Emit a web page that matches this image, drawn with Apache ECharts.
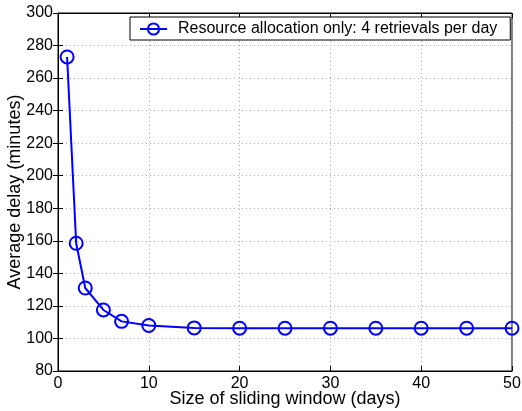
<!DOCTYPE html>
<html><head><meta charset="utf-8">
<script src="https://cdn.jsdelivr.net/npm/echarts@6/dist/echarts.min.js"></script>
<style>html,body{margin:0;padding:0;background:#fff}#c{width:522px;height:411px}</style>
</head><body><div id="c"></div>
<script>
const windowSizes = [1, 2, 3, 5, 7, 10, 15, 20, 25, 30, 35, 40, 45, 50];
const avgDelay = [273, 158.5, 131, 117.5, 110.5, 108, 106.5, 106.3, 106.3, 106.3, 106.3, 106.3, 106.3, 106.3];
const seriesName = 'Resource allocation only: 4 retrievals per day';
const xLabel = 'Size of sliding window (days)';
const yLabel = 'Average delay (minutes)';

const font = 'Liberation Sans, Arial, Helvetica, sans-serif';
const chart = echarts.init(document.getElementById('c'), null, {renderer: 'canvas'});
const grid = {left: 58, right: 10, top: 13, bottom: 40, show: true, borderColor: '#000', borderWidth: 1, backgroundColor: '#fff', containLabel: false, outerBoundsMode: 'none'};
const split = {show: true, lineStyle: {color: '#aaa', type: [1, 3], width: 1}};
chart.setOption({
  animation: false,
  textStyle: {fontFamily: font},
  grid: grid,
  legend: {
    data: [seriesName], left: 130, top: 17, orient: 'horizontal',
    backgroundColor: '#fff', borderColor: '#000', borderWidth: 1,
    padding: [4, 13, 3, 9], itemWidth: 27, itemHeight: 14, itemGap: 6,
    textStyle: {fontFamily: font, fontSize: 16, color: '#000', padding: [0, 0, 0, 6]}
  },
  xAxis: [{
    type: 'value', min: 0, max: 50, interval: 10, position: 'bottom',
    name: xLabel, nameLocation: 'middle', nameGap: 19, nameMoveOverlap: false,
    nameTextStyle: {fontFamily: font, fontSize: 18, color: '#000'},
    axisLine: {show: true, lineStyle: {color: '#000'}},
    axisTick: {show: true, inside: true, length: 5, lineStyle: {color: '#000'}},
    axisLabel: {fontFamily: font, fontSize: 16, color: '#000', margin: 5},
    splitLine: split
  }, {
    type: 'value', min: 0, max: 50, interval: 10, position: 'top',
    axisLine: {show: true, lineStyle: {color: '#000'}},
    axisTick: {show: true, inside: true, length: 5, lineStyle: {color: '#000'}},
    axisLabel: {show: false}, splitLine: {show: false}
  }],
  yAxis: [{
    type: 'value', min: 80, max: 300, interval: 20, position: 'left',
    name: yLabel, nameLocation: 'middle', nameGap: 34, nameMoveOverlap: false,
    nameTextStyle: {fontFamily: font, fontSize: 18, color: '#000'},
    axisLine: {show: true, lineStyle: {color: '#000'}},
    axisTick: {show: true, inside: true, length: 5, lineStyle: {color: '#000'}},
    axisLabel: {fontFamily: font, fontSize: 16, color: '#000', margin: 5},
    splitLine: split
  }, {
    type: 'value', min: 80, max: 300, interval: 20, position: 'right',
    axisLine: {show: true, lineStyle: {color: '#000'}},
    axisTick: {show: true, inside: true, length: 5, lineStyle: {color: '#000'}},
    axisLabel: {show: false}, splitLine: {show: false}
  }],
  series: [{
    name: seriesName, type: 'line',
    data: windowSizes.map((x, i) => [x, avgDelay[i]]),
    symbol: 'circle', symbolSize: 13, showAllSymbol: true,
    color: '#0000ff',
    lineStyle: {color: '#0000ff', width: 2},
    itemStyle: {color: 'rgba(0,0,0,0)', borderColor: '#0000ff', borderWidth: 2}
  }]
});
</script></body></html>
